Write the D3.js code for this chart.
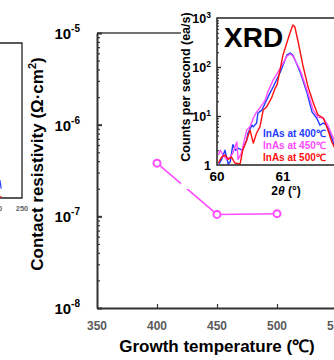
<!DOCTYPE html>
<html>
<head>
<meta charset="utf-8">
<script src="https://cdn.jsdelivr.net/npm/d3@7"></script>
<style>
  body { margin: 0; background: #fff; }
  svg { display: block; }
  text { font-family: Arial, "Liberation Sans", sans-serif; font-weight: bold; }
</style>
</head>
<body>
<div id="chart"></div>
<script>
// main panel: contact resistivity vs growth temperature
let temps = [400, 450, 500];
let resistivity = [3.8e-7, 1.05e-7, 1.07e-7];
let tempTicks = [350, 400, 450, 500, 550];
let rhoTicks = [1e-8, 1e-7, 1e-6, 1e-5];

// XRD inset, [2theta, counts]
let thetaTicks = [60, 61];
let countTicks = [1, 10, 100, 1000];
let xrd400 = [[60.03,1.05],[60.07,1.3],[60.12,2.0],[60.17,1.05],[60.2,1.15],[60.24,2.6],[60.28,2.0],[60.32,2.2],[60.38,2.0],[60.45,3.2],[60.47,4.5],[60.53,6.5],[60.55,6.0],[60.6,7.2],[60.62,11.5],[60.68,13.2],[60.73,18.4],[60.8,29],[60.85,39],[60.96,79],[61.06,176],[61.11,193],[61.15,176],[61.26,79],[61.36,31],[61.44,12],[61.51,9.1],[61.56,6.5],[61.61,7.2],[61.66,6.5],[61.71,4.5],[61.76,2.95],[61.82,1.8]];
let xrd450 = [[60.02,1.6],[60.05,2.0],[60.09,1.6],[60.15,1.3],[60.2,1.45],[60.24,1.75],[60.3,2.95],[60.32,1.3],[60.37,1.75],[60.45,5.2],[60.5,6.0],[60.55,9.1],[60.6,12],[60.65,14.6],[60.73,21],[60.77,31],[60.85,54],[60.96,95],[61.06,167],[61.11,184],[61.15,167],[61.26,87],[61.38,29],[61.46,13],[61.53,9.5],[61.61,9.1],[61.68,6.5],[61.76,3.6],[61.83,2.0]];
let xrd500 = [[60.02,1.1],[60.07,1.45],[60.12,1.6],[60.17,1.3],[60.22,1.45],[60.27,1.1],[60.35,1.05],[60.39,2.0],[60.45,3.2],[60.5,5.2],[60.55,2.8],[60.6,4.5],[60.65,6.0],[60.7,13.2],[60.75,15.2],[60.83,24],[60.88,37],[60.91,43],[61.0,176],[61.11,516],[61.15,720],[61.18,655],[61.23,324],[61.3,110],[61.38,39],[61.46,18.4],[61.53,10.5],[61.61,9.1],[61.67,5.7],[61.74,2.95],[61.8,2.0]];
let legendLabels = ["InAs at 400℃", "InAs at 450℃", "InAs at 500℃"];
let xrdColors = ["#1f3cff", "#ff4cff", "#ff1010"];

// neighbouring panel, cut off at the left edge
let leftTicks = [200, 250];
let leftBlue = [[205, 0.05], [207.5, 0.115], [210, 0.06]];
let leftRed = [[200, 0.005], [211, 0.008]];

let width = 334, height = 360;
let axisColor = "#333";

let svg = d3.select("#chart").append("svg")
  .attr("width", width)
  .attr("height", height);

// ---- left cut-off panel
let lx = d3.scaleLinear().domain([200, 250]).range([-4, 22]);
let ly = d3.scaleLinear().domain([0, 1]).range([198, 43]);
let left = svg.append("g");
left.append("path")
  .attr("d", `M0,${ly(1)}H${lx(250)}V${ly(0)}H0`)
  .attr("fill", "none").attr("stroke", "#222").attr("stroke-width", 1.3);
left.selectAll(".lt").data(leftTicks).enter().append("text")
  .attr("x", d => lx(d)).attr("y", ly(0) + 13)
  .attr("text-anchor", "middle").attr("font-size", 7.5).attr("fill", "#666")
  .text(d => d);
let lline = d3.line().x(d => lx(d[0])).y(d => ly(d[1]));
left.append("path").attr("d", lline(leftBlue)).attr("fill", "none").attr("stroke", "#1f3cff").attr("stroke-width", 1.2);
left.append("path").attr("d", lline(leftRed)).attr("fill", "none").attr("stroke", "#ff1010").attr("stroke-width", 1.2);

// ---- main panel
let x = d3.scaleLinear().domain([350, 550]).range([97, 337]);
let y = d3.scaleLog().domain([1e-8, 1e-5]).range([308, 33]);

// top frame
svg.append("line")
  .attr("x1", x(350)).attr("x2", x(550))
  .attr("y1", y(1e-5)).attr("y2", y(1e-5))
  .attr("stroke", "#444").attr("stroke-width", 1.5);

let xAxis = svg.append("g")
  .attr("transform", `translate(0,${y(1e-8)})`)
  .call(d3.axisBottom(x).tickValues(tempTicks.slice(1)).tickSizeInner(-4).tickSizeOuter(0).tickFormat(""));
xAxis.select(".domain").attr("stroke", axisColor).attr("stroke-width", 2);
xAxis.selectAll(".tick line").attr("stroke", axisColor).attr("stroke-width", 1.2);

svg.selectAll(".xl").data(tempTicks).enter().append("text")
  .attr("x", d => x(d)).attr("y", 330)
  .attr("text-anchor", "middle").attr("font-size", 12).attr("fill", "#5a5a5a")
  .text(d => d);

let rhoMinor = [];
for (let e = -8; e < -5; e++) for (let m = 2; m <= 9; m++) rhoMinor.push(m * Math.pow(10, e));

let yMinor = svg.append("g")
  .attr("transform", `translate(${x(350)},0)`)
  .call(d3.axisLeft(y).tickValues(rhoMinor).tickSize(-3).tickFormat(""));
yMinor.select(".domain").remove();
yMinor.selectAll(".tick line").attr("stroke", axisColor).attr("stroke-width", 1.2);

let yAxis = svg.append("g")
  .attr("transform", `translate(${x(350)},0)`)
  .call(d3.axisLeft(y).tickValues(rhoTicks).tickSizeInner(-5).tickSizeOuter(0).tickFormat(""));
yAxis.select(".domain").attr("stroke", axisColor).attr("stroke-width", 2);
yAxis.selectAll(".tick line").attr("stroke", axisColor).attr("stroke-width", 2);

let yLabels = svg.selectAll(".yl").data(rhoTicks).enter().append("text")
  .attr("x", 80).attr("y", d => y(d) + 6)
  .attr("text-anchor", "end").attr("font-size", 15).attr("fill", "#000");
yLabels.append("tspan").text("10");
yLabels.append("tspan").attr("font-size", 10).attr("dy", -7)
  .text(d => Math.round(Math.log10(d)));

let yTitle = svg.append("text")
  .attr("transform", "translate(43,164) rotate(-90)")
  .attr("text-anchor", "middle").attr("font-size", 17);
yTitle.append("tspan").text("Contact resistivity (Ω·cm");
yTitle.append("tspan").attr("font-size", 11).attr("dy", -7).text("2");
yTitle.append("tspan").attr("dy", 7).text(")");

svg.append("text")
  .attr("x", 217).attr("y", 352)
  .attr("text-anchor", "middle").attr("font-size", 17)
  .text("Growth temperature (℃)");

let pts = temps.map((t, i) => [t, resistivity[i]]);
svg.append("path")
  .attr("d", d3.line().x(d => x(d[0])).y(d => y(d[1]))(pts))
  .attr("fill", "none").attr("stroke", "#ff4cff").attr("stroke-width", 1.5);
svg.selectAll(".pt").data(pts).enter().append("circle")
  .attr("cx", d => x(d[0])).attr("cy", d => y(d[1])).attr("r", 3.5)
  .attr("fill", "#fff").attr("stroke", "#ff4cff").attr("stroke-width", 2);

// ---- XRD inset
let ix = d3.scaleLinear().domain([60, 62]).range([217, 349]);
let iy = d3.scaleLog().domain([1, 1000]).range([165, 18]);

svg.append("rect")
  .attr("x", 181).attr("y", 0).attr("width", width - 181).attr("height", 189)
  .attr("fill", "#fff");

svg.append("defs").append("clipPath").attr("id", "inclip")
  .append("rect").attr("x", ix(60)).attr("y", iy(1000)).attr("width", ix(62) - ix(60)).attr("height", iy(1) - iy(1000));

let inset = svg.append("g");
let iline = d3.line().x(d => ix(d[0])).y(d => iy(d[1]));
let curves = inset.append("g").attr("clip-path", "url(#inclip)");
[xrd400, xrd450, xrd500].forEach((s, i) => {
  curves.append("path")
    .attr("d", iline(s))
    .attr("fill", "none").attr("stroke", xrdColors[i]).attr("stroke-width", 1.4)
    .attr("stroke-linejoin", "round");
});

inset.append("path")
  .attr("d", `M${ix(62)},${iy(1000)}H${ix(60)}V${iy(1)}H${ix(62)}`)
  .attr("fill", "none").attr("stroke", "#222").attr("stroke-width", 1.5);

let countMinor = [];
for (let e = 0; e < 3; e++) for (let m = 2; m <= 9; m++) countMinor.push(m * Math.pow(10, e));
let iyMinor = inset.append("g")
  .attr("transform", `translate(${ix(60)},0)`)
  .call(d3.axisLeft(iy).tickValues(countMinor).tickSize(-2).tickFormat(""));
iyMinor.select(".domain").remove();
iyMinor.selectAll(".tick line").attr("stroke", "#222");
let iyMajor = inset.append("g")
  .attr("transform", `translate(${ix(60)},0)`)
  .call(d3.axisLeft(iy).tickValues([10, 100]).tickSize(-4).tickFormat(""));
iyMajor.select(".domain").remove();
iyMajor.selectAll(".tick line").attr("stroke", "#222").attr("stroke-width", 1.3);

let iyLabels = inset.selectAll(".iyl").data(countTicks).enter().append("text")
  .attr("x", 211).attr("y", d => iy(d) + 4.5)
  .attr("text-anchor", "end").attr("font-size", 12.5).attr("fill", "#000");
iyLabels.append("tspan").text(d => d === 1 ? "1" : "10");
iyLabels.filter(d => d !== 1).append("tspan").attr("font-size", 8.5).attr("dy", -5)
  .text(d => Math.round(Math.log10(d)));

inset.selectAll(".ixl").data(thetaTicks).enter().append("text")
  .attr("x", d => ix(d)).attr("y", 181)
  .attr("text-anchor", "middle").attr("font-size", 13.5).attr("fill", "#000")
  .text(d => d);

let ixTitle = inset.append("text")
  .attr("x", 286).attr("y", 195)
  .attr("text-anchor", "middle").attr("font-size", 12);
ixTitle.append("tspan").text("2");
ixTitle.append("tspan").attr("font-style", "italic").text("θ");
ixTitle.append("tspan").text(" (°)");

inset.append("text")
  .attr("transform", "translate(190,87) rotate(-90)")
  .attr("text-anchor", "middle").attr("font-size", 12.5)
  .text("Counts per second (ea/s)");

inset.append("text")
  .attr("x", 224).attr("y", 47)
  .attr("font-size", 28).attr("fill", "#000")
  .text("XRD");

legendLabels.forEach((l, i) => {
  inset.append("text")
    .attr("x", 263).attr("y", 137 + i * 12)
    .attr("font-size", 10).attr("fill", xrdColors[i])
    .text(l);
});
</script>
</body>
</html>
